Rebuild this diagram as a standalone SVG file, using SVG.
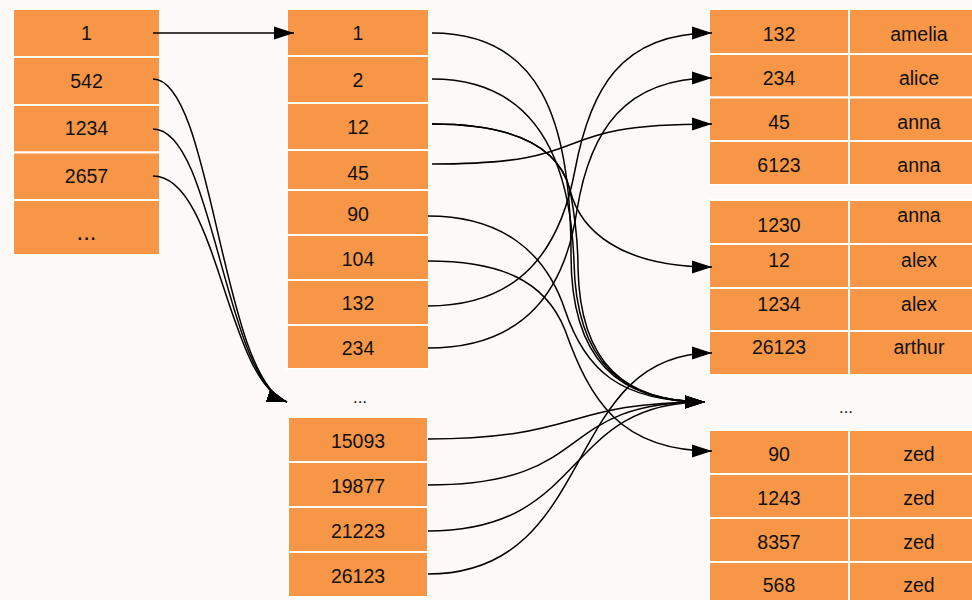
<svg xmlns="http://www.w3.org/2000/svg" width="972" height="600" viewBox="0 0 972 600">
  <defs>
    <style>
      .cell { fill: #F79646; stroke: #ffffff; stroke-width: 2; }
      .t { font-family: "Liberation Sans", Arial, sans-serif; font-size: 19.5px; fill: #111111; text-anchor: middle; }
      .dots { font-family: "Liberation Sans", Arial, sans-serif; font-size: 17px; fill: #111111; text-anchor: middle; }
      .edge { fill: none; stroke: #000000; stroke-width: 1.5; }
      .arr { marker-end: url(#ah); }
    </style>
    <marker id="ah" markerWidth="20" markerHeight="14" refX="20" refY="7" orient="auto" markerUnits="userSpaceOnUse">
      <path d="M0,0.5 L20,7 L0,13.5 z" fill="#000000"/>
    </marker>
  </defs>

  <rect x="0" y="0" width="972" height="600" fill="#fdf9f8"/>

  <!-- left hash column -->
  <g id="hash">
    <g id="h1"><rect class="cell" x="13" y="9" width="147" height="48"/><text class="t" x="86.5" y="40">1</text></g>
    <g id="h542"><rect class="cell" x="13" y="57" width="147" height="48"/><text class="t" x="86.5" y="88">542</text></g>
    <g id="h1234"><rect class="cell" x="13" y="105" width="147" height="47.5"/><text class="t" x="86.5" y="135">1234</text></g>
    <g id="h2657"><rect class="cell" x="13" y="152.5" width="147" height="47.5"/><text class="t" x="86.5" y="183">2657</text></g>
    <g id="hmore"><rect class="cell" x="13" y="200" width="147" height="55"/><text class="t" x="86.5" y="240" style="font-size:24px">...</text></g>
  </g>

  <!-- middle sorted index column -->
  <g id="index">
    <rect x="427" y="9" width="4" height="181" fill="#ffffff"/>
    <g id="i1"><rect class="cell" x="287" y="9" width="142" height="47"/><text class="t" x="358" y="39.5">1</text></g>
    <g id="i2"><rect class="cell" x="287" y="56" width="142" height="47"/><text class="t" x="358" y="87">2</text></g>
    <g id="i12"><rect class="cell" x="287" y="103" width="142" height="47"/><text class="t" x="358" y="133.5">12</text></g>
    <g id="i45"><rect class="cell" x="287" y="150" width="142" height="40"/><text class="t" x="358" y="180">45</text></g>
    <g id="i90"><rect class="cell" x="287" y="190" width="142" height="45"/><text class="t" x="358" y="221">90</text></g>
    <g id="i104"><rect class="cell" x="287" y="235" width="142" height="45"/><text class="t" x="358" y="266">104</text></g>
    <g id="i132"><rect class="cell" x="287" y="280" width="142" height="45"/><text class="t" x="358" y="310">132</text></g>
    <g id="i234"><rect class="cell" x="287" y="325" width="142" height="44"/><text class="t" x="358" y="355">234</text></g>
    <g id="imore"><text class="dots" x="360" y="402.5">...</text></g>
    <g id="i15093"><rect class="cell" x="288" y="417" width="140" height="45"/><text class="t" x="358" y="448">15093</text></g>
    <g id="i19877"><rect class="cell" x="288" y="462" width="140" height="45"/><text class="t" x="358" y="493">19877</text></g>
    <g id="i21223"><rect class="cell" x="288" y="507" width="140" height="45"/><text class="t" x="358" y="538">21223</text></g>
    <g id="i26123"><rect class="cell" x="288" y="552" width="140" height="45"/><text class="t" x="358" y="583">26123</text></g>
  </g>

  <!-- right table: id / name -->
  <g id="table">
    <g id="r132"><rect class="cell" x="709" y="9" width="140" height="45"/><rect class="cell" x="849" y="9" width="126" height="45"/><text class="t" x="779" y="40.5">132</text><text class="t" x="919" y="40.5">amelia</text></g>
    <g id="r234"><rect class="cell" x="709" y="54" width="140" height="43.5"/><rect class="cell" x="849" y="54" width="126" height="43.5"/><text class="t" x="779" y="85">234</text><text class="t" x="919" y="85">alice</text></g>
    <g id="r45"><rect class="cell" x="709" y="97.5" width="140" height="43.5"/><rect class="cell" x="849" y="97.5" width="126" height="43.5"/><text class="t" x="779" y="128.5">45</text><text class="t" x="919" y="128.5">anna</text></g>
    <g id="r6123"><rect class="cell" x="709" y="141" width="140" height="44"/><rect class="cell" x="849" y="141" width="126" height="44"/><text class="t" x="779" y="172">6123</text><text class="t" x="919" y="172">anna</text></g>

    <g id="r1230"><rect class="cell" x="709" y="200" width="140" height="44"/><rect class="cell" x="849" y="200" width="126" height="44"/><text class="t" x="779" y="231.5">1230</text><text class="t" x="919" y="222">anna</text></g>
    <g id="r12"><rect class="cell" x="709" y="244" width="140" height="44"/><rect class="cell" x="849" y="244" width="126" height="44"/><text class="t" x="779" y="266.5">12</text><text class="t" x="919" y="266.5">alex</text></g>
    <g id="r1234"><rect class="cell" x="709" y="288" width="140" height="43"/><rect class="cell" x="849" y="288" width="126" height="43"/><text class="t" x="779" y="310.5">1234</text><text class="t" x="919" y="310.5">alex</text></g>
    <g id="r26123"><rect class="cell" x="709" y="331" width="140" height="44"/><rect class="cell" x="849" y="331" width="126" height="44"/><text class="t" x="779" y="354">26123</text><text class="t" x="919" y="354">arthur</text></g>

    <g id="rmore"><text class="dots" x="846" y="413">...</text></g>

    <g id="r90"><rect class="cell" x="709" y="430" width="140" height="44"/><rect class="cell" x="849" y="430" width="126" height="44"/><text class="t" x="779" y="460.5">90</text><text class="t" x="919" y="460.5">zed</text></g>
    <g id="r1243"><rect class="cell" x="709" y="474" width="140" height="44"/><rect class="cell" x="849" y="474" width="126" height="44"/><text class="t" x="779" y="505">1243</text><text class="t" x="919" y="505">zed</text></g>
    <g id="r8357"><rect class="cell" x="709" y="518" width="140" height="44"/><rect class="cell" x="849" y="518" width="126" height="44"/><text class="t" x="779" y="549">8357</text><text class="t" x="919" y="549">zed</text></g>
    <g id="r568"><rect class="cell" x="709" y="562" width="140" height="44"/><rect class="cell" x="849" y="562" width="126" height="44"/><text class="t" x="779" y="592">568</text><text class="t" x="919" y="592">zed</text></g>
  </g>

  <!-- pointers -->
  <g id="connectors">
    <!-- hash column to index -->
    <path class="edge arr" d="M153,33 L294,33"/>
    <path class="edge arr" d="M153,79 C212,79 222,380 287,402"/>
    <path class="edge arr" d="M153,129 C214,129 224,380 287,402"/>
    <path class="edge arr" d="M153,176 C218,176 226,381 287,402"/>

    <!-- index to table -->
    <path class="edge arr" d="M432,33 C540,33 571,120 571,255 C571,360 618,402 705,402"/>
    <path class="edge arr" d="M432,79 C530,79 570,150 574,262 C576,362 622,402 705,402"/>
    <path class="edge arr" d="M432,124 C520,124 560,150 570,190 C580,230 620,267 712,267"/>
    <path class="edge arr" d="M432,124 C520,124 560,150 570,190 C576,222 578,245 578,268 C580,365 626,402 705,402"/>
    <path class="edge arr" d="M432,164 C610,164 534,124 712,124"/>
    <path class="edge arr" d="M428,216 C500,216 545,250 565,310 C585,370 620,402 705,402"/>
    <path class="edge arr" d="M428,261 C500,261 545,280 565,330 C590,400 620,451 712,451"/>
    <path class="edge arr" d="M428,306 C520,306 560,250 575,170 C590,90 620,33 712,33"/>
    <path class="edge arr" d="M428,348 C525,348 565,290 577,210 C590,130 625,78 712,78"/>
    <path class="edge arr" d="M428,439 C580,439 565,402 705,402"/>
    <path class="edge arr" d="M428,485 C600,485 550,402 705,402"/>
    <path class="edge arr" d="M428,531 C590,531 560,402 705,402"/>
    <path class="edge arr" d="M428,574 C600,574 560,353 712,353"/>
  </g>
</svg>
